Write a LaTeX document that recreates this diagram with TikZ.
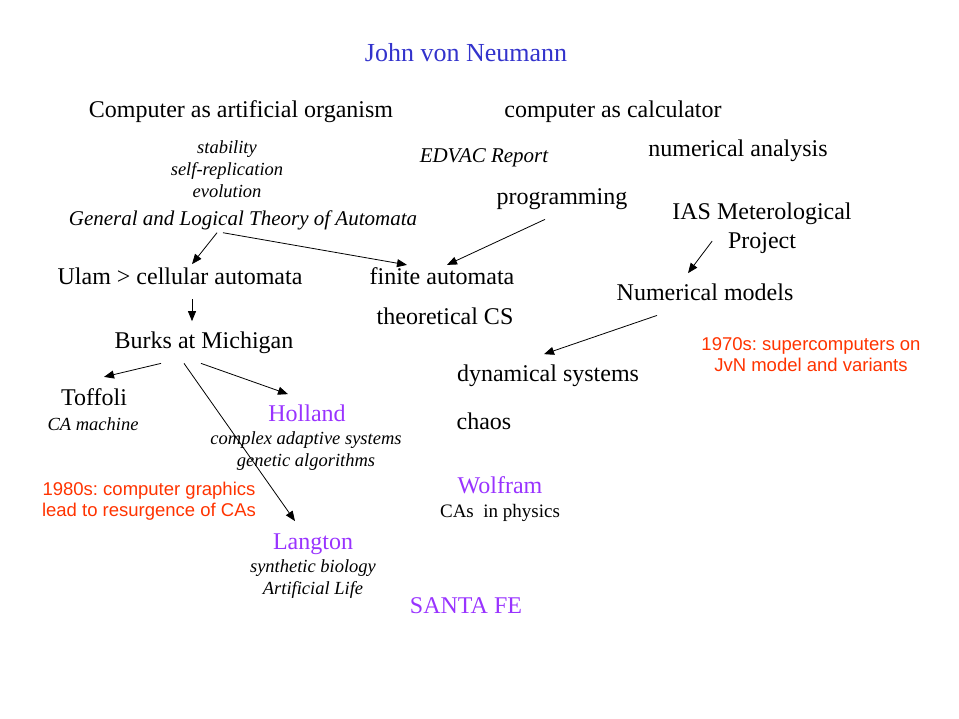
\documentclass[tikz,border=0pt]{standalone}
\usepackage{fontspec}
\setmainfont{Liberation Serif}
\newfontfamily\notefont{Liberation Sans}
\usetikzlibrary{arrows.meta}
\definecolor{JVN-BLUE}{RGB}{51, 51, 204}
\definecolor{JVN-PURPLE}{RGB}{153, 51, 255}
\definecolor{JVN-RED}{RGB}{255, 51, 0}
\frenchspacing

\begin{document}
\begin{tikzpicture}[x=1pt,y=-1pt,
  big/.style={anchor=base, inner sep=1pt, font=\fontsize{24}{29}\selectfont},
  work/.style={anchor=base, inner sep=1pt, font=\fontsize{21}{25}\selectfont\itshape},
  small/.style={inner sep=1pt, align=center, font=\fontsize{18.5}{22}\selectfont\itshape},
  note/.style={inner sep=1pt, align=center, text=JVN-RED, font=\fontsize{18.5}{21}\notefont},
  arr/.style={-{Triangle[length=10pt,width=8pt]}, line width=0.8pt}]
  \useasboundingbox (0,-2) rectangle (959,717);

  % Title
  \node[big, JVN-BLUE, font=\fontsize{26}{31}\selectfont] (jvn) at (466,60) {John von Neumann};

  % Two views of the computer
  \node[big] (organism) at (241,116) {Computer as artificial organism};
  \node[big] (calc) at (613,116) {computer as calculator};
  \node[small] (traits) at (227,167) {stability\\self-replication\\evolution};
  \node[work] (edvac) at (484,161) {EDVAC Report};
  \node[big] (numan) at (738,155) {numerical analysis};
  \node[big] (prog) at (562,203) {programming};
  \node[work] (gen) at (243,224) {General and Logical Theory of Automata};
  \node[big, anchor=center, align=center] (ias) at (762,226.5) {IAS Meterological\\Project};

  % Second row
  \node[big] (ulam) at (180,283) {Ulam > cellular automata};
  \node[big] (fin) at (442,283) {finite automata};
  \node[big] (num) at (705,299) {Numerical models};
  \node[big] (theo) at (445,323) {theoretical CS};
  \node[big] (burks) at (204,347) {Burks at Michigan};
  \node[note] (super) at (811,352.5) {1970s: supercomputers on\\JvN model and variants};
  \node[big] (dyn) at (548,379) {dynamical systems};
  \node[big] (chaos) at (484,427) {chaos};

  % People
  \node[big] (toffoli) at (94,403) {Toffoli};
  \node[small] (camach) at (93,422) {CA machine};
  \node[big, JVN-PURPLE] (holland) at (307,419) {Holland};
  \node[small] (cas) at (306,449) {complex adaptive systems\\genetic algorithms};
  \node[note] (graphics) at (149,499.5) {1980s: computer graphics\\lead to resurgence of CAs};
  \node[big, JVN-PURPLE] (wolfram) at (500,491) {Wolfram};
  \node[big, font=\fontsize{19}{23}\selectfont] (phys) at (500,515) {CAs\ \ in physics};
  \node[big, JVN-PURPLE] (langton) at (313,547) {Langton};
  \node[small] (alife) at (313,577) {synthetic biology\\Artificial Life};
  \node[big, JVN-PURPLE] (santafe) at (466,611) {SANTA FE};

  % Arrows
  \draw[arr] ([xshift=-26pt,yshift=-1pt]gen.south) -- ([xshift=12pt,yshift=3pt]ulam.north);
  \draw[arr] ([xshift=-20pt,yshift=-1pt]gen.south) -- ([xshift=-35pt,yshift=2pt]fin.north);
  \draw[arr] ([xshift=-17pt,yshift=-8pt]prog.south) -- ([xshift=5pt,yshift=2pt]fin.north);
  \draw[arr] ([xshift=41pt,yshift=14pt]ias.south west) -- ([xshift=-17pt,yshift=10pt]num.north);
  \draw[arr] ([xshift=12pt,yshift=-13pt]ulam.south) -- ([xshift=-12pt,yshift=10pt]burks.north);
  \draw[arr] ([xshift=-43pt,yshift=-8pt]burks.south) -- ([xshift=10pt,yshift=10pt]toffoli.north);
  \draw[arr] ([xshift=-3pt,yshift=-8pt]burks.south) -- ([xshift=-19pt,yshift=9pt]holland.north);
  \draw[arr] ([xshift=-20pt,yshift=-8pt]burks.south) -- ([xshift=-18pt,yshift=11pt]langton.north);
  \draw[arr] ([xshift=-48pt,yshift=-13pt]num.south) -- ([xshift=-4pt,yshift=9pt]dyn.north);
\end{tikzpicture}
\end{document}
